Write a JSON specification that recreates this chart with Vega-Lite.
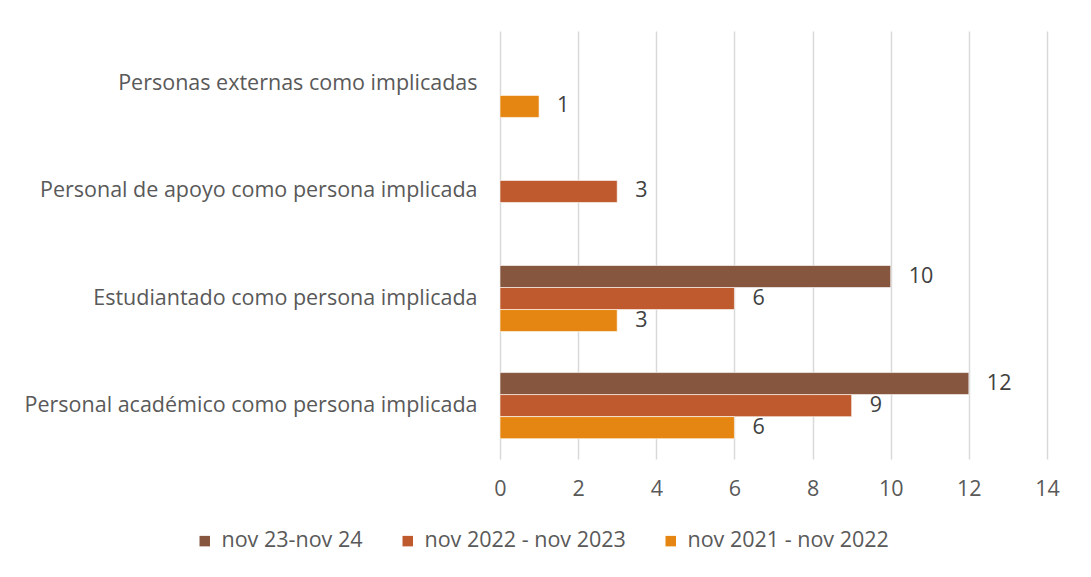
{
  "$schema": "https://vega.github.io/schema/vega-lite/v6.json",
  "width": 547,
  "height": 428,
  "autosize": {"type": "none"},
  "padding": {"left": 500, "top": 31, "right": 44, "bottom": 118},
  "background": "white",
  "config": {
    "font": "Open Sans",
    "view": {"stroke": null},
    "axis": {"labelColor": "#595959", "labelFontSize": 21.5, "labelFont": "Open Sans"}
  },
  "data": {
    "values": [
      {"categoria": "Personas externas como implicadas", "periodo": "nov 2021 - nov 2022", "valor": 1},
      {"categoria": "Personal de apoyo como persona implicada", "periodo": "nov 2022 - nov 2023", "valor": 3},
      {"categoria": "Estudiantado como persona implicada", "periodo": "nov 23-nov 24", "valor": 10},
      {"categoria": "Estudiantado como persona implicada", "periodo": "nov 2022 - nov 2023", "valor": 6},
      {"categoria": "Estudiantado como persona implicada", "periodo": "nov 2021 - nov 2022", "valor": 3},
      {"categoria": "Personal académico como persona implicada", "periodo": "nov 23-nov 24", "valor": 12},
      {"categoria": "Personal académico como persona implicada", "periodo": "nov 2022 - nov 2023", "valor": 9},
      {"categoria": "Personal académico como persona implicada", "periodo": "nov 2021 - nov 2022", "valor": 6}
    ]
  },
  "encoding": {
    "y": {
      "field": "categoria",
      "type": "nominal",
      "sort": ["Personas externas como implicadas", "Personal de apoyo como persona implicada", "Estudiantado como persona implicada", "Personal académico como persona implicada"],
      "scale": {"paddingInner": 0.383, "paddingOuter": 0.19},
      "axis": {"title": null, "ticks": false, "domain": false, "labelPadding": 23, "labelLimit": 600}
    },
    "yOffset": {
      "field": "periodo",
      "type": "nominal",
      "scale": {"domain": ["nov 23-nov 24", "nov 2022 - nov 2023", "nov 2021 - nov 2022"], "paddingInner": 0, "paddingOuter": 0}
    },
    "x": {
      "field": "valor",
      "type": "quantitative",
      "scale": {"domain": [0, 14], "nice": false},
      "axis": {"title": null, "values": [0, 2, 4, 6, 8, 10, 12, 14], "ticks": false, "domain": false, "labelFlush": false, "labelPadding": 19, "gridColor": "#D9D9D9", "gridWidth": 1.5}
    }
  },
  "layer": [
    {
      "mark": {"type": "bar", "stroke": "white", "strokeWidth": 0.6},
      "encoding": {
        "color": {
          "field": "periodo",
          "type": "nominal",
          "scale": {"domain": ["nov 23-nov 24", "nov 2022 - nov 2023", "nov 2021 - nov 2022"], "range": ["#86563F", "#BE5A2D", "#E68612"]},
          "legend": {
            "title": null,
            "orient": "none",
            "direction": "horizontal",
            "legendX": -306,
            "legendY": 499,
            "symbolType": "square",
            "symbolSize": 110,
            "symbolStrokeWidth": 0,
            "labelFontSize": 21.5,
            "labelColor": "#595959",
            "labelOffset": 6,
            "columnPadding": 34,
            "labelLimit": 400
          }
        }
      }
    },
    {
      "mark": {"type": "text", "align": "left", "baseline": "middle", "dx": 18, "fontSize": 21.5, "color": "#404040"},
      "encoding": {"text": {"field": "valor", "type": "quantitative"}}
    }
  ]
}
